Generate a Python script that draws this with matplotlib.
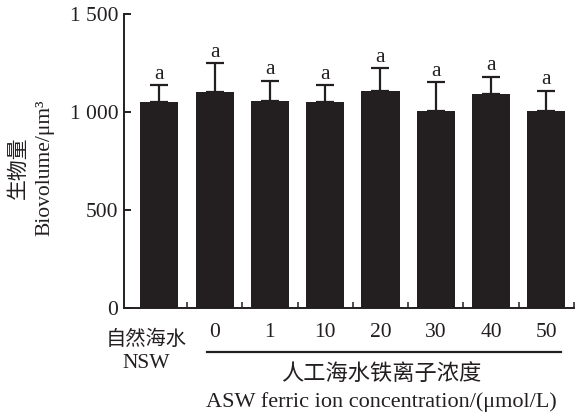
import matplotlib
matplotlib.use("Agg")
import matplotlib.pyplot as plt
from matplotlib.transforms import blended_transform_factory
from matplotlib.lines import Line2D

# Biovolume per treatment (mean and upper SD)
groups = ["NSW", "0", "1", "10", "20", "30", "40", "50"]
conc_labels = ["0", "1", "10", "20", "30", "40", "50"]
means = [1054, 1105, 1058, 1051, 1109, 1008, 1093, 1007]
sds = [85, 145, 103, 88, 115, 145, 89, 103]
letters = ["a", "a", "a", "a", "a", "a", "a", "a"]

serif = ["Liberation Serif", "Noto Sans CJK SC", "DejaVu Serif"]
cjk = ["Noto Sans CJK SC", "Liberation Serif"]
plt.rcParams["font.family"] = serif

bar_color = "#231f20"
fs = 15.5

fig = plt.figure(figsize=(5.75, 4.15), dpi=100)
ax = fig.add_axes([0.2157, 0.2571, 0.7823, 0.7084])

x = list(range(len(groups)))
ax.bar(x, means, width=0.69, color=bar_color, zorder=2)
ax.errorbar(x, means, yerr=[[0] * len(sds), sds], fmt="none",
            ecolor=bar_color, elinewidth=1.6, capsize=6.8, capthick=1.6, zorder=3)
for xi, m, s, t in zip(x, means, sds, letters):
    ax.annotate(t, (xi, m + s), xytext=(0, 1.0), textcoords="offset points",
                ha="center", va="bottom", fontsize=fs, color=bar_color)

ax.set_xlim(-0.64, 7.5)
ax.set_ylim(0, 1500)
ax.set_yticks([0, 500, 1000, 1500])
ax.set_yticklabels(["0", "500", "1 000", "1 500"], fontsize=fs)
ax.set_xticks([])
ax.set_xticks([i + 0.5 for i in range(len(groups))], minor=True)
ax.tick_params(axis="x", which="minor", direction="in", length=4.5, width=1.1,
               color=bar_color, labelbottom=False)
ax.tick_params(axis="y", direction="in", length=5, width=1.4, color=bar_color,
               pad=4, labelcolor=bar_color)
for side in ("top", "right"):
    ax.spines[side].set_visible(False)
for side in ("left", "bottom"):
    ax.spines[side].set_linewidth(1.4)
    ax.spines[side].set_color(bar_color)

# Category labels beneath the axis
tr = blended_transform_factory(ax.transData, fig.transFigure)
for xi, lab in zip(x[1:], conc_labels):
    ax.text(xi, 0.198, lab, transform=tr, ha="center", va="center",
            fontsize=fs, color=bar_color)
ax.text(-0.245, 0.183, "自然海水", transform=tr, ha="center", va="center",
        fontsize=14.6, family=cjk, color=bar_color)
ax.text(-0.245, 0.123, "NSW", transform=tr, ha="center", va="center",
        fontsize=fs, color=bar_color)
ax.add_line(Line2D([0.86, 7.26], [0.152, 0.152], transform=tr, color=bar_color,
                   lw=1.6, clip_on=False))
ax.text(4.02, 0.099, "人工海水铁离子浓度", transform=tr, ha="center", va="center",
        fontsize=16, family=cjk, color=bar_color)
ax.text(4.02, 0.032, "ASW ferric ion concentration/(μmol/L)", transform=tr,
        ha="center", va="center", fontsize=16, color=bar_color)

# Two-line y-axis title
fig.text(0.031, 0.595, "生物量", rotation=90, ha="center", va="center",
         fontsize=15, family=cjk, color=bar_color)
fig.text(0.078, 0.595, "Biovolume/μm³", rotation=90, ha="center", va="center",
         fontsize=fs, color=bar_color)

fig.savefig("out.png", dpi=100)
